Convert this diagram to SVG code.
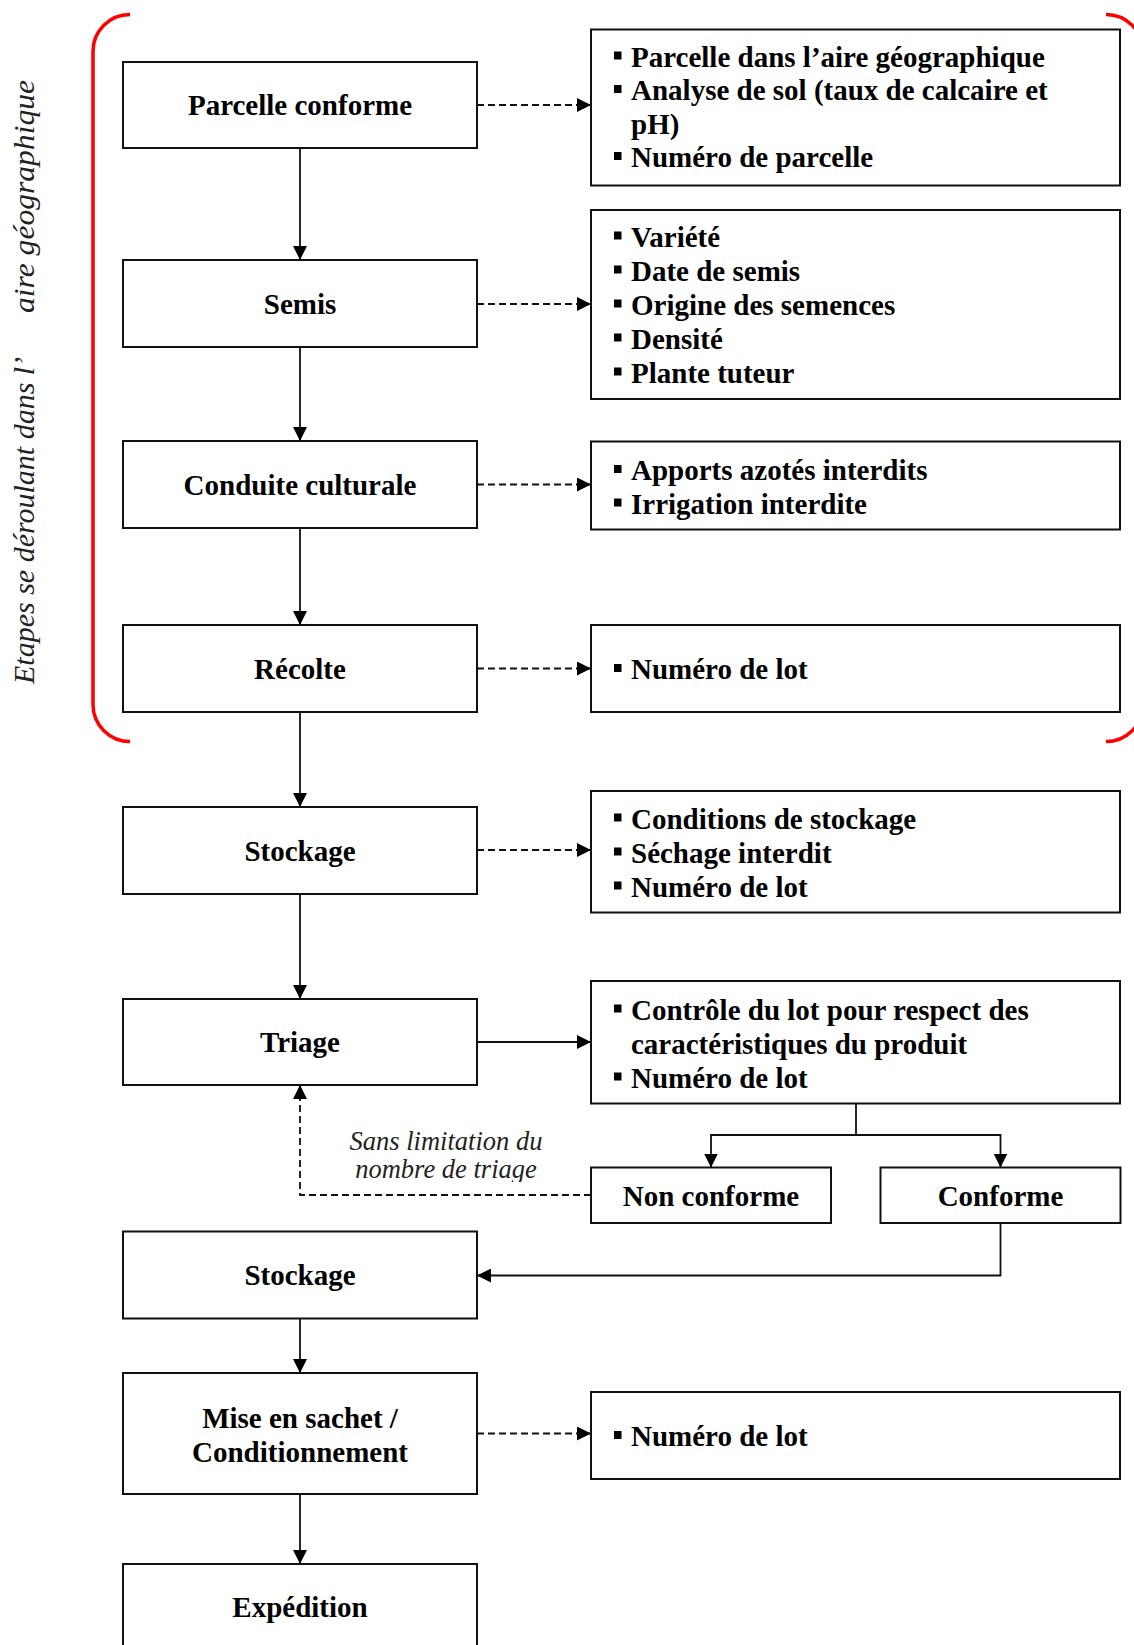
<svg xmlns="http://www.w3.org/2000/svg" width="1134" height="1645" viewBox="0 0 1134 1645">
<defs>
<style>
.box{fill:#fff;stroke:#111;stroke-width:2}
.t{font-family:"Liberation Serif","Times New Roman",serif;font-weight:bold;font-size:29px;fill:#000}
.c{text-anchor:middle}
.it{font-family:"Liberation Serif","Times New Roman",serif;font-style:italic;fill:#222}
.ln{fill:none;stroke:#111;stroke-width:1.8}
.dash{fill:none;stroke:#111;stroke-width:1.8;stroke-dasharray:7,4}
.br{fill:none;stroke:#ff0000;stroke-width:3.5}
.bul{fill:#000}
</style>
<marker id="arr" viewBox="0 0 14 14" refX="14" refY="7" markerWidth="14" markerHeight="14" markerUnits="userSpaceOnUse" orient="auto">
<path d="M0,0 L14,7 L0,14 z" fill="#000"/>
</marker>
<clipPath id="lblclip"><rect x="330" y="1115" width="230" height="67"/></clipPath>
</defs>
<rect width="1134" height="1645" fill="#fff"/>

<g id="bracket">
<path class="br" d="M130,14.5 A37,37 0 0 0 93,51.5 V704.5 A37,37 0 0 0 130,741.5"/>
<path class="br" d="M1106,14.5 A37,37 0 0 1 1143,51.5 V704.5 A37,37 0 0 1 1106,741.5"/>
</g>

<g id="side-label" class="it" font-size="30">
<text transform="translate(34,684) rotate(-90)">Etapes se déroulant dans l’</text>
<text transform="translate(34,313) rotate(-90)" textLength="233" lengthAdjust="spacingAndGlyphs">aire géographique</text>
</g>

<g id="connectors">
<path class="ln" d="M300,148 V260" marker-end="url(#arr)"/>
<path class="ln" d="M300,347 V441" marker-end="url(#arr)"/>
<path class="ln" d="M300,528 V625" marker-end="url(#arr)"/>
<path class="ln" d="M300,712 V807" marker-end="url(#arr)"/>
<path class="ln" d="M300,894 V999" marker-end="url(#arr)"/>
<path class="ln" d="M300,1318.5 V1373" marker-end="url(#arr)"/>
<path class="ln" d="M300,1494 V1564" marker-end="url(#arr)"/>
<path class="dash" d="M477,105 H591" marker-end="url(#arr)"/>
<path class="dash" d="M477,304 H591" marker-end="url(#arr)"/>
<path class="dash" d="M477,484.5 H591" marker-end="url(#arr)"/>
<path class="dash" d="M477,668.5 H591" marker-end="url(#arr)"/>
<path class="dash" d="M477,850 H591" marker-end="url(#arr)"/>
<path class="dash" d="M477,1433.5 H591" marker-end="url(#arr)"/>
<path class="ln" d="M477,1042 H591" marker-end="url(#arr)"/>
<path class="ln" d="M856,1103.5 V1135 H711 V1167.5" marker-end="url(#arr)"/>
<path class="ln" d="M856,1135 H1000.5 V1167.5" marker-end="url(#arr)"/>
<path class="ln" d="M1000.5,1223 V1275.5 H477" marker-end="url(#arr)"/>
<path class="dash" d="M591,1195 H300 V1085" marker-end="url(#arr)"/>
<g clip-path="url(#lblclip)">
<text class="it c" font-size="26.5" x="446" y="1150">Sans limitation du</text>
<text class="it c" font-size="26.5" x="446" y="1178">nombre de triage</text>
</g>
</g>

<g id="n-parcelle"><rect class="box" x="123" y="62" width="354" height="86"/><text class="t c" x="300" y="115">Parcelle conforme</text></g>
<g id="n-semis"><rect class="box" x="123" y="260" width="354" height="87"/><text class="t c" x="300" y="314">Semis</text></g>
<g id="n-conduite"><rect class="box" x="123" y="441" width="354" height="87"/><text class="t c" x="300" y="494.5">Conduite culturale</text></g>
<g id="n-recolte"><rect class="box" x="123" y="625" width="354" height="87"/><text class="t c" x="300" y="679">Récolte</text></g>
<g id="n-stockage1"><rect class="box" x="123" y="807" width="354" height="87"/><text class="t c" x="300" y="860.5">Stockage</text></g>
<g id="n-triage"><rect class="box" x="123" y="999" width="354" height="86"/><text class="t c" x="300" y="1052">Triage</text></g>
<g id="n-stockage2"><rect class="box" x="123" y="1231.5" width="354" height="87"/><text class="t c" x="300" y="1285">Stockage</text></g>
<g id="n-mise"><rect class="box" x="123" y="1373" width="354" height="121"/><text class="t c" x="300" y="1428">Mise en sachet /</text><text class="t c" x="300" y="1462">Conditionnement</text></g>
<g id="n-expedition"><rect class="box" x="123" y="1564" width="354" height="100"/><text class="t c" x="300" y="1617">Expédition</text></g>

<g id="i-parcelle"><rect class="box" x="591" y="29.5" width="529" height="156"/>
<rect class="bul" x="614" y="51.5" width="7.5" height="8"/><text class="t" x="631" y="66.5">Parcelle dans l’aire géographique</text>
<rect class="bul" x="614" y="85" width="7.5" height="8"/><text class="t" x="631" y="100">Analyse de sol (taux de calcaire et</text>
<text class="t" x="631" y="133.5">pH)</text>
<rect class="bul" x="614" y="152" width="7.5" height="8"/><text class="t" x="631" y="167">Numéro de parcelle</text>
</g>
<g id="i-semis"><rect class="box" x="591" y="210" width="529" height="189"/>
<rect class="bul" x="614" y="231.5" width="7.5" height="8"/><text class="t" x="631" y="246.5">Variété</text>
<rect class="bul" x="614" y="265.5" width="7.5" height="8"/><text class="t" x="631" y="280.5">Date de semis</text>
<rect class="bul" x="614" y="299.5" width="7.5" height="8"/><text class="t" x="631" y="314.5">Origine des semences</text>
<rect class="bul" x="614" y="333.5" width="7.5" height="8"/><text class="t" x="631" y="348.5">Densité</text>
<rect class="bul" x="614" y="367.5" width="7.5" height="8"/><text class="t" x="631" y="382.5">Plante tuteur</text>
</g>
<g id="i-conduite"><rect class="box" x="591" y="441.5" width="529" height="88"/>
<rect class="bul" x="614" y="465" width="7.5" height="8"/><text class="t" x="631" y="480">Apports azotés interdits</text>
<rect class="bul" x="614" y="498.5" width="7.5" height="8"/><text class="t" x="631" y="513.5">Irrigation interdite</text>
</g>
<g id="i-recolte"><rect class="box" x="591" y="625" width="529" height="87"/>
<rect class="bul" x="614" y="664" width="7.5" height="8"/><text class="t" x="631" y="679">Numéro de lot</text>
</g>
<g id="i-stockage"><rect class="box" x="591" y="791" width="529" height="121.5"/>
<rect class="bul" x="614" y="813.5" width="7.5" height="8"/><text class="t" x="631" y="828.5">Conditions de stockage</text>
<rect class="bul" x="614" y="847.5" width="7.5" height="8"/><text class="t" x="631" y="862.5">Séchage interdit</text>
<rect class="bul" x="614" y="881.5" width="7.5" height="8"/><text class="t" x="631" y="896.5">Numéro de lot</text>
</g>
<g id="i-triage"><rect class="box" x="591" y="981" width="529" height="122.5"/>
<rect class="bul" x="614" y="1004.5" width="7.5" height="8"/><text class="t" x="631" y="1019.5">Contrôle du lot pour respect des</text>
<text class="t" x="631" y="1053.5">caractéristiques du produit</text>
<rect class="bul" x="614" y="1072.5" width="7.5" height="8"/><text class="t" x="631" y="1087.5">Numéro de lot</text>
</g>
<g id="n-nonconforme"><rect class="box" x="591" y="1167.5" width="240" height="55.5"/><text class="t c" x="711" y="1205.5">Non conforme</text></g>
<g id="n-conforme"><rect class="box" x="880.5" y="1167.5" width="240" height="55.5"/><text class="t c" x="1000.5" y="1205.5">Conforme</text></g>
<g id="i-mise"><rect class="box" x="591" y="1392" width="529" height="87"/>
<rect class="bul" x="614" y="1431" width="7.5" height="8"/><text class="t" x="631" y="1446">Numéro de lot</text>
</g>
</svg>
